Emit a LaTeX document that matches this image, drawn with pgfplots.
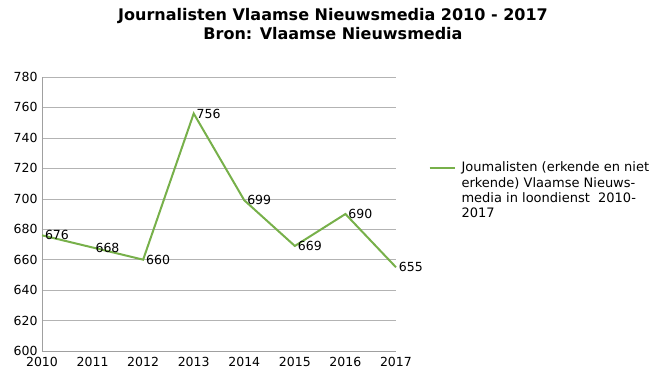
\documentclass[border=0pt]{standalone}
\usepackage{pgfplots}
\pgfplotsset{compat=1.18}
\usepackage{fontspec}
\setmainfont{DejaVu Sans}
\definecolor{lineg}{HTML}{77B04A}
\definecolor{gridg}{HTML}{B3B3B3}
\definecolor{axg}{HTML}{A0A0A0}
\begin{document}
\begin{tikzpicture}[font=\fontsize{12.5}{15}\selectfont]
\path[use as bounding box] (0pt,0pt) rectangle (661pt,377pt);
\node[font=\fontsize{16}{19}\selectfont\bfseries, align=center, anchor=north, inner sep=0pt] at (333pt,369pt)
  {Journalisten Vlaamse Nieuwsmedia 2010 - 2017\\Bron: Vlaamse Nieuwsmedia};
\begin{axis}[
  at={(42pt,26pt)}, anchor=origin,
  scale only axis, width=354pt, height=274pt,
  xmin=2010, xmax=2017, ymin=600, ymax=780,
  xtick={2010,...,2017}, ytick={600,620,...,780},
  /pgf/number format/assume math mode=true,
  tick label style={font=\fontsize{12.5}{15}\selectfont},
  xticklabel style={/pgf/number format/1000 sep={}, yshift=-3pt},
  yticklabel style={xshift=-1pt},
  major tick length=0pt,
  axis x line*=bottom, axis y line*=left,
  axis line style={axg, -},
  ymajorgrids, major grid style={gridg},
  clip=false,
  nodes near coords,
  every node near coord/.append style={anchor=west, inner sep=2pt, text=black, font=\fontsize{12.5}{15}\selectfont},
  legend style={at={(1.083,0.705)}, anchor=north west, draw=none, fill=none,
    font=\fontsize{13}{15.3}\selectfont, row sep=0pt, column sep=4pt},
  legend cell align=left,
  legend image code/.code={\draw[#1, line width=2pt] (0pt,0pt) -- (25pt,0pt);},
]
\addplot[lineg, line width=2pt, mark=none] coordinates {
(2010,676) (2011,668) (2012,660) (2013,756) (2014,699) (2015,669) (2016,690) (2017,655)};
\addlegendentry{\parbox[t]{195pt}{\raggedright\baselineskip=15.3pt Joumalisten (erkende en niet\\ erkende) Vlaamse Nieuws-\\ media in loondienst\ \ 2010-\\ 2017}}
\end{axis}
\end{tikzpicture}
\end{document}
